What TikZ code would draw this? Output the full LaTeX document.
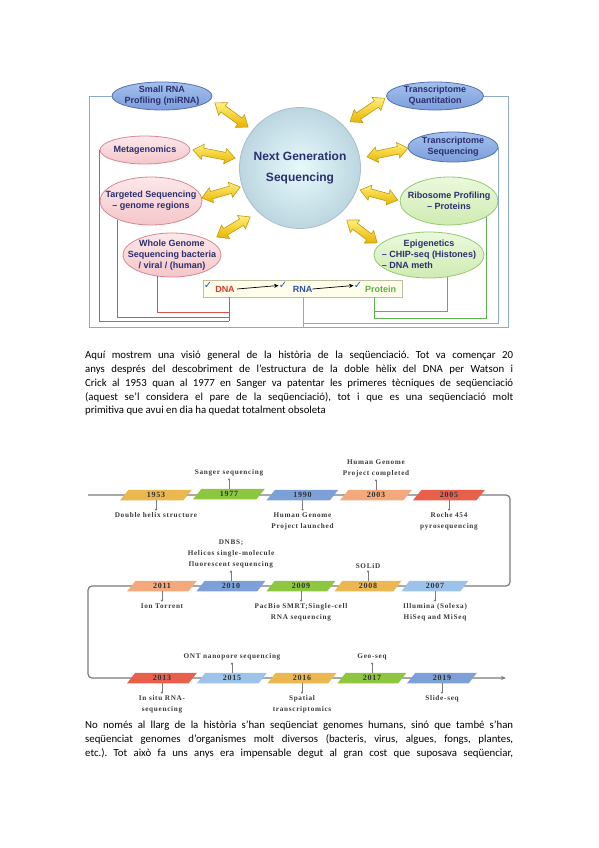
\documentclass[tikz,border=0pt]{standalone}
\usepackage{fontspec}
\setmainfont{Carlito}
\newfontfamily\dgfont{Liberation Sans}
\newfontfamily\tlfont[LetterSpace=10]{Liberation Serif}
\newfontfamily\symfont{DejaVu Sans}
\usetikzlibrary{shapes.geometric,shapes.arrows,arrows.meta,calc}
\frenchspacing
\definecolor{navy}{HTML}{2B2F6E}
\definecolor{bTop}{HTML}{A3C1EE}
\definecolor{bBot}{HTML}{7C9DDA}
\definecolor{bEdge}{HTML}{5670B0}
\definecolor{pTop}{HTML}{FCE8EA}
\definecolor{pBot}{HTML}{F4C6CA}
\definecolor{pEdge}{HTML}{D88890}
\definecolor{gTop}{HTML}{EBF9DC}
\definecolor{gBot}{HTML}{CFEBB2}
\definecolor{gEdge}{HTML}{93C972}
\definecolor{cIn}{HTML}{E6FAFC}
\definecolor{cOut}{HTML}{BCD6E0}
\definecolor{cEdge}{HTML}{A6BFCB}
\definecolor{yTop}{HTML}{FFF07A}
\definecolor{yBot}{HTML}{E8B400}
\definecolor{yEdge}{HTML}{C29A10}
\definecolor{redL}{HTML}{D9544D}
\definecolor{greenL}{HTML}{5DB14E}
\definecolor{blueL}{HTML}{8EA9CC}
\definecolor{chk}{HTML}{2050C0}
\definecolor{dnaR}{HTML}{D83A2E}
\definecolor{rnaB}{HTML}{2F4FB0}
\definecolor{protG}{HTML}{5BB040}
\definecolor{boxF}{HTML}{FFFEEA}
\definecolor{boxE}{HTML}{BDBDA0}
\definecolor{tlGrey}{HTML}{7A7A7A}
\definecolor{tlText}{HTML}{3A3A3A}
\definecolor{cOY}{HTML}{EBB84F}
\definecolor{cGr}{HTML}{8DC63F}
\definecolor{cBl}{HTML}{7DA0D8}
\definecolor{cSa}{HTML}{F4A97C}
\definecolor{cRe}{HTML}{E8604C}
\definecolor{cLb}{HTML}{9DC3EA}
\tikzset{
  ell/.style={ellipse, inner sep=0pt, line width=0.8pt},
  ellb/.style={ell, draw=bEdge, top color=bTop, bottom color=bBot},
  ellp/.style={ell, draw=pEdge, top color=pTop, bottom color=pBot},
  ellg/.style={ell, draw=gEdge, top color=gTop, bottom color=gBot},
  elltext/.style={inner sep=0pt, align=center, text=navy,
    font=\dgfont\bfseries\fontsize{9}{11}\selectfont},
  yarr/.style={double arrow, double arrow head extend=4pt, double arrow tip angle=75,
    minimum height=40pt, minimum width=0pt, inner xsep=0pt, inner ysep=3.5pt,
    draw=yEdge, line width=0.6pt, top color=yTop, bottom color=yBot},
  redl/.style={draw=redL, line width=0.9pt},
  greenl/.style={draw=greenL, line width=0.9pt},
  bluel/.style={draw=blueL, line width=0.9pt},
  wrd/.style={inner sep=0pt, font=\dgfont\bfseries\fontsize{9}{10}\selectfont},
  chkm/.style={inner sep=0pt, text=chk, font=\symfont\bfseries\fontsize{10}{10}\selectfont},
  para/.style={anchor=base west, inner sep=0pt, font=\fontsize{10.8}{13}\selectfont},
  seg/.style={trapezium, trapezium left angle=62, trapezium right angle=118,
    trapezium stretches=true, minimum height=10.5pt, inner sep=0pt,
    font=\tlfont\bfseries\fontsize{8}{8}\selectfont, text=black!80},
  tllab/.style={inner sep=0pt, align=center, text=tlText,
    font=\tlfont\bfseries\fontsize{7.2}{11}\selectfont},
  pinl/.style={draw=tlGrey, line width=0.7pt},
  tline/.style={draw=tlGrey, line width=1.2pt}
}
\newcommand\ellnode[6]{%
  \node[#1, minimum width=#4, minimum height=#5] (#2) at (#3) {};
  \node[elltext] (#2-t) at (#2) {#6};}
\newcommand\pinB[2]{%
  \draw[pinl] (#1.south) -- ++(0,9) coordinate (#1-d);
  \fill[tlGrey] (#1-d) circle (1.2pt);
  \node[tllab, anchor=north] (#1-l) at ([yshift=-3pt]#1-d) {#2};}
\newcommand\pinA[2]{%
  \draw[pinl] (#1.north) -- ++(0,-9) coordinate (#1-d);
  \fill[tlGrey] (#1-d) circle (1.2pt);
  \node[tllab, anchor=south] (#1-l) at ([yshift=3pt]#1-d) {#2};}
\begin{document}
\begin{tikzpicture}[x=1pt,y=-1pt]
\fill[white] (0,0) rectangle (599,848);
\path[use as bounding box] (0,0) rectangle (599,848);

% ---------- NGS figure ----------
\ellnode{ellb}{srna}{162,96}{100pt}{28pt}{Small RNA\\Profiling (miRNA)}
\ellnode{ellb}{tq}{435,96}{97pt}{28pt}{Transcriptome\\Quantitation}
\ellnode{ellp}{mg}{145,150}{90pt}{28pt}{Metagenomics}
\ellnode{ellb}{ts}{453,147}{90pt}{30pt}{Transcriptome\\Sequencing}
\ellnode{ellp}{tg}{151,201}{102pt}{48pt}{Targeted Sequencing\\– genome regions}
\ellnode{ellg}{rb}{449,201}{98pt}{48pt}{Ribosome Profiling\\– Proteins}
\ellnode{ellp}{wg}{172,255}{98pt}{44pt}{Whole Genome\\Sequencing bacteria\\/ viral / (human)}
\ellnode{ellg}{ep}{429,255}{110pt}{46pt}{\begin{tabular}{@{}l@{}}\multicolumn{1}{@{}c@{}}{Epigenetics}\\– CHIP-seq (Histones)\\– DNA meth\end{tabular}}

\node[circle, minimum size=121pt, inner sep=0pt, draw=cEdge, line width=0.8pt,
  inner color=cIn, outer color=cOut, align=center, text=navy,
  font=\dgfont\bfseries\fontsize{12}{21}\selectfont] (ngs) at (300,168) {Next Generation\\Sequencing};

\node[yarr, rotate=-36, minimum height=41pt] (a1) at (231.5,115) {};
\node[yarr, rotate=34, minimum height=42pt] (a2) at (367.5,110) {};
\node[yarr, rotate=-11, minimum height=43pt] (a3) at (214,154) {};
\node[yarr, rotate=12, minimum height=42pt] (a4) at (387.5,152.5) {};
\node[yarr, rotate=16, minimum height=40pt] (a5) at (221,192.5) {};
\node[yarr, rotate=-15, minimum height=39pt] (a6) at (379,195) {};
\node[yarr, rotate=31, minimum height=39pt] (a7) at (233.5,227) {};
\node[yarr, rotate=-37, minimum height=38pt] (a8) at (362,231.5) {};

% DNA -> RNA -> Protein box
\node[draw=boxE, fill=boxF, line width=0.7pt, minimum width=199pt, minimum height=17pt, inner sep=0pt] (dbox) at (302.5,288.5) {};
\node[chkm] (c1) at (208,285.5) {✓};
\node[wrd, text=dnaR] (dnaw) at (225,289) {DNA};
\node[chkm] (c2) at (283,285.5) {✓};
\node[wrd, text=rnaB] (rnaw) at (302.5,289) {RNA};
\node[chkm] (c3) at (358,285.5) {✓};
\node[wrd, text=protG] (protw) at (380.5,289) {Protein};
\draw[-{Stealth[length=4.5pt,width=4pt]}, line width=0.7pt] ([xshift=2pt]dnaw.east) -- (c2.west);
\draw[-{Stealth[length=4.5pt,width=4pt]}, line width=0.7pt] (rnaw.east) -- (c3.west);

% connector lines
\coordinate (dnaP) at (229,297);
\coordinate (rnaP) at (303,297);
\coordinate (protP) at (374,297);
\coordinate (r1) at (229,312);
\coordinate (r2) at (229,317);
\coordinate (r3) at (229,321);
\coordinate (g1) at (374,311);
\coordinate (g2) at (374,318);
\coordinate (bBL) at (89,327);
\coordinate (bBR) at (508,327);
\coordinate (bIn) at (303,323);
\coordinate (bRna) at (303,327);
\draw[redl] (mg.west) |- (r3);
\draw[redl] (tg.209) |- (r2);
\draw[redl] (wg.235) |- (r1);
\draw[redl] (dnaP) -- (r3);
\draw[greenl] (ep.310) |- (g1);
\draw[greenl] (rb.337) |- (g2);
\draw[greenl] (protP) -- (g2);
\draw[bluel] (srna.west) -| (bBL) -- (bBR) |- (tq.east);
\draw[bluel] (ts.east) |- (bIn);
\draw[bluel] (rnaP) -- (bRna);

% ---------- paragraph 1 ----------
\node[para] (p1a) at (85,358) {\makebox[428pt][s]{Aquí mostrem una visió general de la història de la seqüenciació. Tot va començar 20}};
\node[para] (p1b) at (85,372) {\makebox[428pt][s]{anys després del descobriment de l’estructura de la doble hèlix del DNA per Watson i}};
\node[para] (p1c) at (85,386) {\makebox[428pt][s]{Crick al 1953 quan al 1977 en Sanger va patentar les primeres tècniques de seqüenciació}};
\node[para] (p1d) at (85,400) {\makebox[428pt][s]{(aquest se’l considera el pare de la seqüenciació), tot i que es una seqüenciació molt}};
\node[para] (p1e) at (85,413) {primitiva que avui en dia ha quedat totalment obsoleta};

% ---------- timeline ----------
\coordinate (tA) at (88,495);
\coordinate (tB) at (510,495);
\coordinate (tC) at (510,586);
\coordinate (tD) at (88,586);
\coordinate (tE) at (88,678);
\coordinate (tF) at (506,678);
\draw[tline, rounded corners=4pt, -{Stealth[length=5pt,width=4pt]}] (tA) -- (tB) -- (tC) -- (tD) -- (tE) -- (tF);

\node[seg, fill=cOY, minimum width=72pt] (s1953) at (156,495) {1953};
\node[seg, fill=cGr, minimum width=72pt] (s1977) at (229,494) {1977};
\node[seg, fill=cBl, minimum width=72pt] (s1990) at (302.5,495) {1990};
\node[seg, fill=cSa, minimum width=72pt] (s2003) at (376,495) {2003};
\node[seg, fill=cRe, minimum width=72pt] (s2005) at (449,495) {2005};

\node[seg, fill=cSa, minimum width=70pt] (s2011) at (162,586) {2011};
\node[seg, fill=cBl, minimum width=69pt] (s2010) at (231,586) {2010};
\node[seg, fill=cGr, minimum width=69pt] (s2009) at (301,586) {2009};
\node[seg, fill=cOY, minimum width=67pt] (s2008) at (368,586) {2008};
\node[seg, fill=cLb, minimum width=67pt] (s2007) at (435,586) {2007};

\node[seg, fill=cRe, minimum width=70pt] (s2013) at (162,678) {2013};
\node[seg, fill=cLb, minimum width=70pt] (s2015) at (232,678) {2015};
\node[seg, fill=cOY, minimum width=69pt] (s2016) at (302,678) {2016};
\node[seg, fill=cGr, minimum width=69pt] (s2017) at (372,678) {2017};
\node[seg, fill=cBl, minimum width=70pt] (s2019) at (442,678) {2019};

\pinB{s1953}{Double helix structure}
\pinA{s1977}{Sanger sequencing}
\pinB{s1990}{Human Genome\\Project launched}
\pinA{s2003}{Human Genome\\Project completed}
\pinB{s2005}{Roche 454\\pyrosequencing}
\pinB{s2011}{Ion Torrent}
\pinA{s2010}{DNBS;\\Helicos single-molecule\\fluorescent sequencing}
\pinB{s2009}{PacBio SMRT;Single-cell\\RNA sequencing}
\pinA{s2008}{SOLiD}
\pinB{s2007}{Illumina (Solexa)\\HiSeq and MiSeq}
\pinB{s2013}{In situ RNA-\\sequencing}
\pinA{s2015}{ONT nanopore sequencing}
\pinB{s2016}{Spatial\\transcriptomics}
\pinA{s2017}{Geo-seq}
\pinB{s2019}{Slide-seq}

% ---------- paragraph 2 ----------
\node[para] (p2a) at (85,728) {\makebox[428pt][s]{No només al llarg de la història s’han seqüenciat genomes humans, sinó que també s’han}};
\node[para] (p2b) at (85,742) {\makebox[428pt][s]{seqüenciat genomes d’organismes molt diversos (bacteris, virus, algues, fongs, plantes,}};
\node[para] (p2c) at (85,756) {\makebox[428pt][s]{etc.). Tot això fa uns anys era impensable degut al gran cost que suposava seqüenciar,}};
\end{tikzpicture}
\end{document}
